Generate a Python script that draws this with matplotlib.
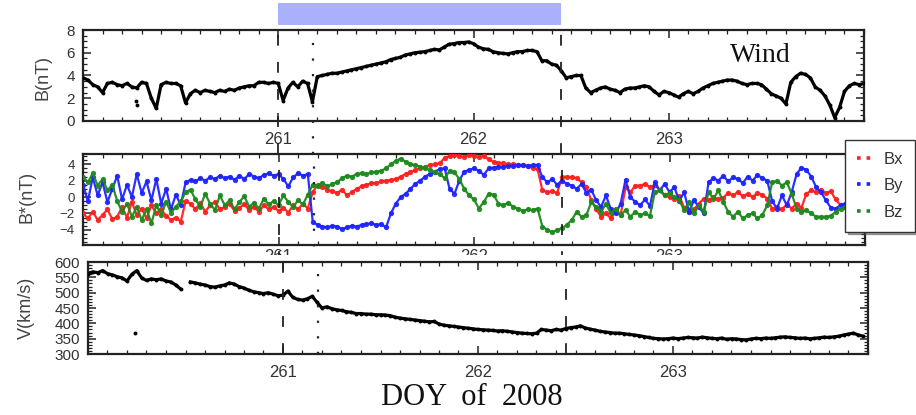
import numpy as np
import matplotlib
matplotlib.use("Agg")
import matplotlib.pyplot as plt
from matplotlib.patches import Rectangle
from matplotlib.lines import Line2D
from matplotlib.ticker import MultipleLocator
from matplotlib.transforms import blended_transform_factory

plt.rcParams['font.family'] = ['Liberation Sans', 'DejaVu Sans']

# Sample times: DOY of 2008 at a 0.025-day cadence (260.000 ... 264.000)
doy = 260.0 + 0.025 * np.arange(161)

# |B| (nT), one row per quarter day
b_mag = [
    3.8, 3.6, 3.2, 3.0, 2.5, 3.3, 3.4, 3.2, 3.1, 3.3,
    3.0, 2.9, 3.4, 3.3, 2.0, 1.1, 3.2, 3.4, 3.3, 3.3,
    3.1, 1.6, 2.4, 2.7, 2.5, 2.7, 2.6, 2.5, 2.7, 2.6,
    2.8, 2.7, 2.9, 3.0, 3.1, 3.1, 3.4, 3.4, 3.3, 3.4,
    3.3, 1.8, 2.9, 3.4, 3.0, 3.5, 3.3, 1.7, 3.9, 4.0,
    4.1, 4.2, 4.2, 4.3, 4.4, 4.5, 4.6, 4.7, 4.8, 4.9,
    5.0, 5.1, 5.2, 5.4, 5.5, 5.6, 5.8, 5.9, 6.0, 6.05,
    6.1, 6.2, 6.3, 6.25, 6.5, 6.75, 6.8, 6.9, 6.9, 6.95,
    6.8, 6.5, 6.35, 6.3, 6.1, 6.0, 5.95, 5.9, 6.0, 6.1,
    6.1, 6.2, 6.2, 6.1, 5.3, 5.3, 5.0, 4.9, 4.4, 3.8,
    3.9, 4.0, 4.0, 2.9, 2.5, 2.7, 2.9, 3.0, 2.8, 2.7,
    2.5, 2.8, 2.9, 2.9, 3.0, 3.1, 3.0, 2.6, 2.3, 2.6,
    2.5, 2.3, 2.1, 2.4, 2.6, 2.4, 2.6, 2.9, 3.1, 3.3,
    3.4, 3.5, 3.6, 3.6, 3.5, 3.3, 3.2, 3.3, 3.3, 3.2,
    2.8, 2.4, 2.2, 2.0, 1.5, 3.4, 3.9, 4.2, 4.1, 3.8,
    3.0, 2.7, 2.2, 1.4, 0.3, 1.2, 2.6, 3.1, 3.3, 3.2,
    3.3,
]

# Field components B* (nT)
bx = [
    -2.0, -2.6, -1.8, -2.8, -2.2, -1.5, -2.7, -2.4, -1.2, -2.5,
    -0.6, -2.2, -1.4, -2.6, -1.0, -2.0, -1.5, -2.3, -2.8, -2.5,
    -3.0, -0.5, -0.8, -1.5, -0.7, -1.8, -1.0, -0.6, -1.5, -1.2,
    -0.8, -1.7, -1.3, -0.9, -1.6, -1.2, -1.8, -1.0, -1.5, -1.2,
    -1.7, -1.3, -1.9, -1.0, -1.5, -0.8, -1.4, 0.6, 1.5, 1.2,
    0.9, 0.7, 0.5, 0.9, 0.2, 0.6, 1.0, 1.3, 1.5, 1.7,
    1.7, 1.9, 2.0, 2.1, 2.2, 2.5, 2.8, 3.1, 3.3, 3.5,
    3.7, 3.9, 4.0, 4.1, 4.8, 5.0, 5.1, 5.0, 4.9, 5.1,
    5.0, 4.9, 5.0, 4.6, 4.3, 4.2, 4.1, 4.0, 4.0, 3.9,
    3.9, 3.8, 3.6, 3.4, 0.8, 0.6, 0.7, 0.5, 2.4, 2.5,
    2.4, 2.3, 1.8, 1.2, -0.4, -1.5, -2.4, -2.0, -2.6, -1.8,
    -2.2, 1.2, 0.6, 1.4, 1.4, 1.6, 1.2, 1.5, 0.8, 0.3,
    0.0, -0.2, 0.1, -1.3, -1.8, -1.5, -0.8, -0.2, -0.4, 0.0,
    -0.3, -0.1, 0.5, 0.2, 0.6, 0.1, 0.4, 0.0, 0.5, 0.3,
    -0.2, -1.4, -1.2, -1.5, -0.9, -1.4, -0.8, -1.3, 0.4, 0.8,
    0.6, 0.9, 0.5, 0.7, -0.3, -1.0, -1.2, -0.9, -1.0, -1.0,
    -1.0,
]
by = [
    1.5, -0.5, 2.4, 0.2, 1.8, -0.6, 1.0, 2.6, -0.3, 1.5,
    0.0, 2.8, 0.5, 1.9, -0.4, 2.2, -0.8, 1.0, -1.5, 0.3,
    -1.0, 1.8, 2.1, 1.9, 2.3, 2.0, 2.4, 2.2, 2.6, 2.3,
    2.5, 2.1, 2.6, 2.2, 2.8, 2.5, 2.3, 2.7, 2.9, 2.6,
    2.8, 2.2, 1.3, 2.4, 2.9, 2.6, 2.8, -3.0, -3.4, -3.6,
    -3.7, -3.5, -3.6, -3.9, -3.7, -3.5, -3.6, -3.4, -3.3, -3.2,
    -3.4, -3.3, -3.7, -2.0, -0.8, 0.0, 0.4, 1.0, 1.6, 2.0,
    2.5, 2.8, 3.1, 3.4, 3.5, 1.0, 0.4, 2.0, 3.1, 3.3,
    3.5, 3.2, 2.7, 3.5, 3.6, 3.7, 3.7, 3.8, 3.8, 3.9,
    3.9, 3.8, 3.9, 3.9, 2.4, 1.8, 2.2, 1.5, 2.0, 1.6,
    1.4, 1.0, 1.6, 0.5, 0.9, -0.4, -1.2, 0.2, -1.5, -2.0,
    -0.8, 2.1, 0.0, -0.6, -1.0, -0.3, -1.1, 1.8, 0.8, 1.6,
    0.6, 1.2, -0.5, 0.6, -1.8, -0.4, -1.2, -2.0, 1.8, 2.3,
    2.0, 2.6, 1.9, 2.4, 2.2, 1.7, 2.5, 2.0, 2.7, 2.3,
    2.0, -0.5, -1.4, 0.2, -1.0, 0.6, 2.8, 3.6, 3.3, 2.5,
    1.2, 0.6, -0.4, -1.3, -1.4, -1.0, -0.8, -0.9, -1.0, -1.0,
    -1.0,
]
bz = [
    2.5, 1.8, 2.9, 1.4, 2.2, 0.8, 1.5, -0.5, -1.8, -0.8,
    -2.4, -1.2, -2.8, -1.5, -3.2, -1.0, -2.2, -0.6, -1.9, -1.2,
    -0.5, 0.6, 0.9, -0.3, -1.2, 0.4, -0.8, -1.6, 0.2, -1.0,
    -0.4, -1.5, -0.6, 0.1, -1.2, -0.7, -1.4, -0.2, -0.9, -0.5,
    -1.0, 0.2, -0.6, -1.2, -0.4, -0.9, 0.3, 1.5, 1.4, 1.7,
    1.3, 1.6, 1.8, 2.3, 2.6, 2.5, 2.8, 2.9, 2.8, 3.0,
    3.1, 3.2, 3.5, 4.0, 4.4, 4.7, 4.3, 4.0, 3.9, 3.7,
    3.5, 3.3, 3.0, 2.8, 2.3, 3.2, 3.0, 2.2, 1.0, 0.2,
    -0.3, -1.4, -0.6, 0.4, 0.3, -0.8, -1.0, -0.7, -1.2, -1.4,
    -1.7, -1.5, -1.6, -1.4, -3.6, -4.0, -4.3, -4.0, -3.8, -3.4,
    -2.8, -1.8, -2.4, -2.2, -0.6, -1.2, -1.8, -0.8, -2.0, -1.4,
    -2.2, -1.6, -2.4, -1.8, -2.2, -2.0, -2.3, 0.6, 0.8, 0.2,
    0.5, 0.0, -0.4, -1.6, -0.6, -2.0, -1.0, -1.8, 0.6, -0.2,
    0.8, -0.6, -1.8, -2.4, -1.8, -2.6, -2.2, -2.0, -2.6, -2.2,
    -1.0, 1.8, 2.0, 1.4, 1.8, 0.4, -1.4, -1.8, -1.6, -2.0,
    -2.4, -2.4, -2.4, -2.3, -1.8, -1.4, -1.2, -1.0, -0.8, -0.6,
    -0.5,
]

# Solar wind speed (km/s)
v_sw = [
    560, 568, 565, 572, 562, 558, 552, 548, 538, 560,
    572, 548, 540, 545, 542, 545, 538, 535, 525, 512,
    np.nan, 535, 532, 528, 525, 520, 518, 522, 525, 532,
    528, 520, 515, 508, 503, 500, 497, 500, 495, 490,
    492, 505, 485, 478, 476, 480, 488, 468, 450, 454,
    448, 444, 442, 438, 436, 432, 432, 430, 430, 428,
    428, 427, 425, 420, 417, 415, 413, 411, 409, 407,
    405, 406, 398, 394, 392, 390, 388, 386, 384, 382,
    380, 379, 378, 377, 375, 376, 374, 372, 370, 368,
    367, 366, 368, 380, 378, 376, 380, 378, 383, 386,
    388, 392, 385, 381, 378, 374, 372, 370, 368, 368,
    366, 364, 362, 360, 357, 354, 351, 350, 349, 350,
    352, 350, 352, 354, 353, 352, 355, 353, 351, 350,
    352, 348, 350, 349, 347, 346, 349, 351, 350, 352,
    351, 353, 355, 356, 354, 353, 351, 352, 350, 351,
    353, 355, 354, 356, 358, 362, 365, 368, 362, 358,
    np.nan,
]

# isolated samples
b_spike_doy = [260.27, 260.275]
b_spike = [1.8, 1.4]
v_spike_doy = [260.24]
v_spike = [369]

day_ticks = [261, 262, 263]
cloud_start, cloud_end = 261.0, 262.45
shock_doy = 261.18

component_names = ['Bx', 'By', 'Bz']
component_colors = ['#ff2020', '#1f24ff', '#1e8a1e']

W, H = 916, 415
fig = plt.figure(figsize=(W / 100, H / 100), dpi=100)
fig.patch.set_facecolor('white')


def px_rect(x0, y0, x1, y1):
    return [x0 / W, 1 - y1 / H, (x1 - x0) / W, (y1 - y0) / H]


ax1 = fig.add_axes(px_rect(83, 30, 864, 121))
ax2 = fig.add_axes(px_rect(83, 154, 865, 245))
ax3 = fig.add_axes(px_rect(88, 262, 868, 354))
ax3.set_zorder(2)

edge = '#222222'
txt = '#333333'


def style(ax, ymin, ymax, ymaj, ymin_step, ysize, xpad):
    ax.set_xlim(260, 264)
    ax.set_ylim(ymin, ymax)
    ax.set_xticks(day_ticks)
    ax.set_xticklabels([str(d) for d in day_ticks])
    ax.xaxis.set_minor_locator(MultipleLocator(0.1))
    ax.yaxis.set_major_locator(MultipleLocator(ymaj))
    ax.yaxis.set_minor_locator(MultipleLocator(ymin_step))
    ax.tick_params(which='both', direction='in', top=True, right=True,
                   color=edge, labelcolor=txt)
    ax.tick_params(which='major', length=6, width=1.1)
    ax.tick_params(which='minor', length=3, width=0.9)
    ax.tick_params(axis='x', labelsize=12, pad=xpad)
    ax.tick_params(axis='y', labelsize=ysize, pad=6)
    for s in ax.spines.values():
        s.set_linewidth(1.6)
        s.set_color(edge)


style(ax1, 0, 8, 2, 0.5, 11, 8)
style(ax2, -5.85, 5.25, 2, 0.5, 9.5, 3)
style(ax3, 300, 600, 50, 10, 11, 8)
ax2.set_yticks([-4, -2, 0, 2, 4])

# |B|
ax1.plot(doy, b_mag, color='black', lw=2.3, marker='o', ms=2.8, mew=0, zorder=3)
ax1.plot(b_spike_doy, b_spike, 'o', color='black', ms=2.8, mew=0, zorder=3)

# components
for arr, col in zip([bx, by, bz], component_colors):
    ax2.plot(doy, arr, color=col, lw=1.6, marker='o', ms=3.8, mew=0,
             alpha=0.95, zorder=3)

# speed
ax3.plot(doy, v_sw, color='black', lw=2.3, marker='o', ms=2.8, mew=0, zorder=3)
ax3.plot(v_spike_doy, v_spike, 'o', color='black', ms=2.8, mew=0, zorder=3)

# y-axis labels
for ax, lab, xc, yc in [(ax1, 'B(nT)', -0.040, 0.48),
                        (ax2, 'B*(nT)', -0.061, 0.53),
                        (ax3, 'V(km/s)', -0.068, 0.5)]:
    ax.set_ylabel(lab, fontsize=13, color='#444444')
    ax.yaxis.set_label_coords(xc, yc)

# event boundaries
dash = (0, (6, 9))
dots = (0, (1, 6))
for ax, lo in [(ax1, -33 / 91), (ax2, -17 / 91), (ax3, 0.0)]:
    for xb in (cloud_start, cloud_end):
        ax.axvline(xb, ymin=lo, ymax=1, color=edge, lw=1.3, ls=dash,
                   clip_on=False, zorder=4)
    ax.axvline(shock_doy, ymin=lo, ymax=1, color=edge, lw=1.6, ls=dots,
               clip_on=False, zorder=4)

# interval bar above the top panel
tr = blended_transform_factory(ax1.transData, ax1.transAxes)
ax1.add_patch(Rectangle((cloud_start, 1.055), cloud_end - cloud_start, 0.242,
                        transform=tr, clip_on=False, facecolor='#aab0fc',
                        edgecolor='none'))

# strip above the bottom panel
fig.patches.append(Rectangle((0, 1 - 262 / H), 1, 6.5 / H,
                             transform=fig.transFigure, facecolor='white',
                             edgecolor='none', zorder=1))

fig.text(760 / W, 1 - 55 / H, 'Wind', family='Liberation Serif', fontsize=20,
         ha='center', va='center', color='#111111')
fig.text(472 / W, 1 - 397 / H, 'DOY  of  2008', family='Liberation Serif',
         fontsize=22, ha='center', va='center', color='#111111')

handles = [Line2D([], [], color=c, ls=':', lw=2.6) for c in component_colors]
leg = fig.legend(handles, component_names, loc='upper left',
                 bbox_to_anchor=(845 / W, 1 - 140 / H), fontsize=12,
                 frameon=True, fancybox=False, shadow=True,
                 handlelength=1.0, handletextpad=0.6, labelspacing=0.7,
                 borderpad=0.7, borderaxespad=0)
leg.get_frame().set_edgecolor('#333333')
leg.get_frame().set_linewidth(1.0)
for t in leg.get_texts():
    t.set_color(txt)

fig.savefig('out.png', dpi=100)
